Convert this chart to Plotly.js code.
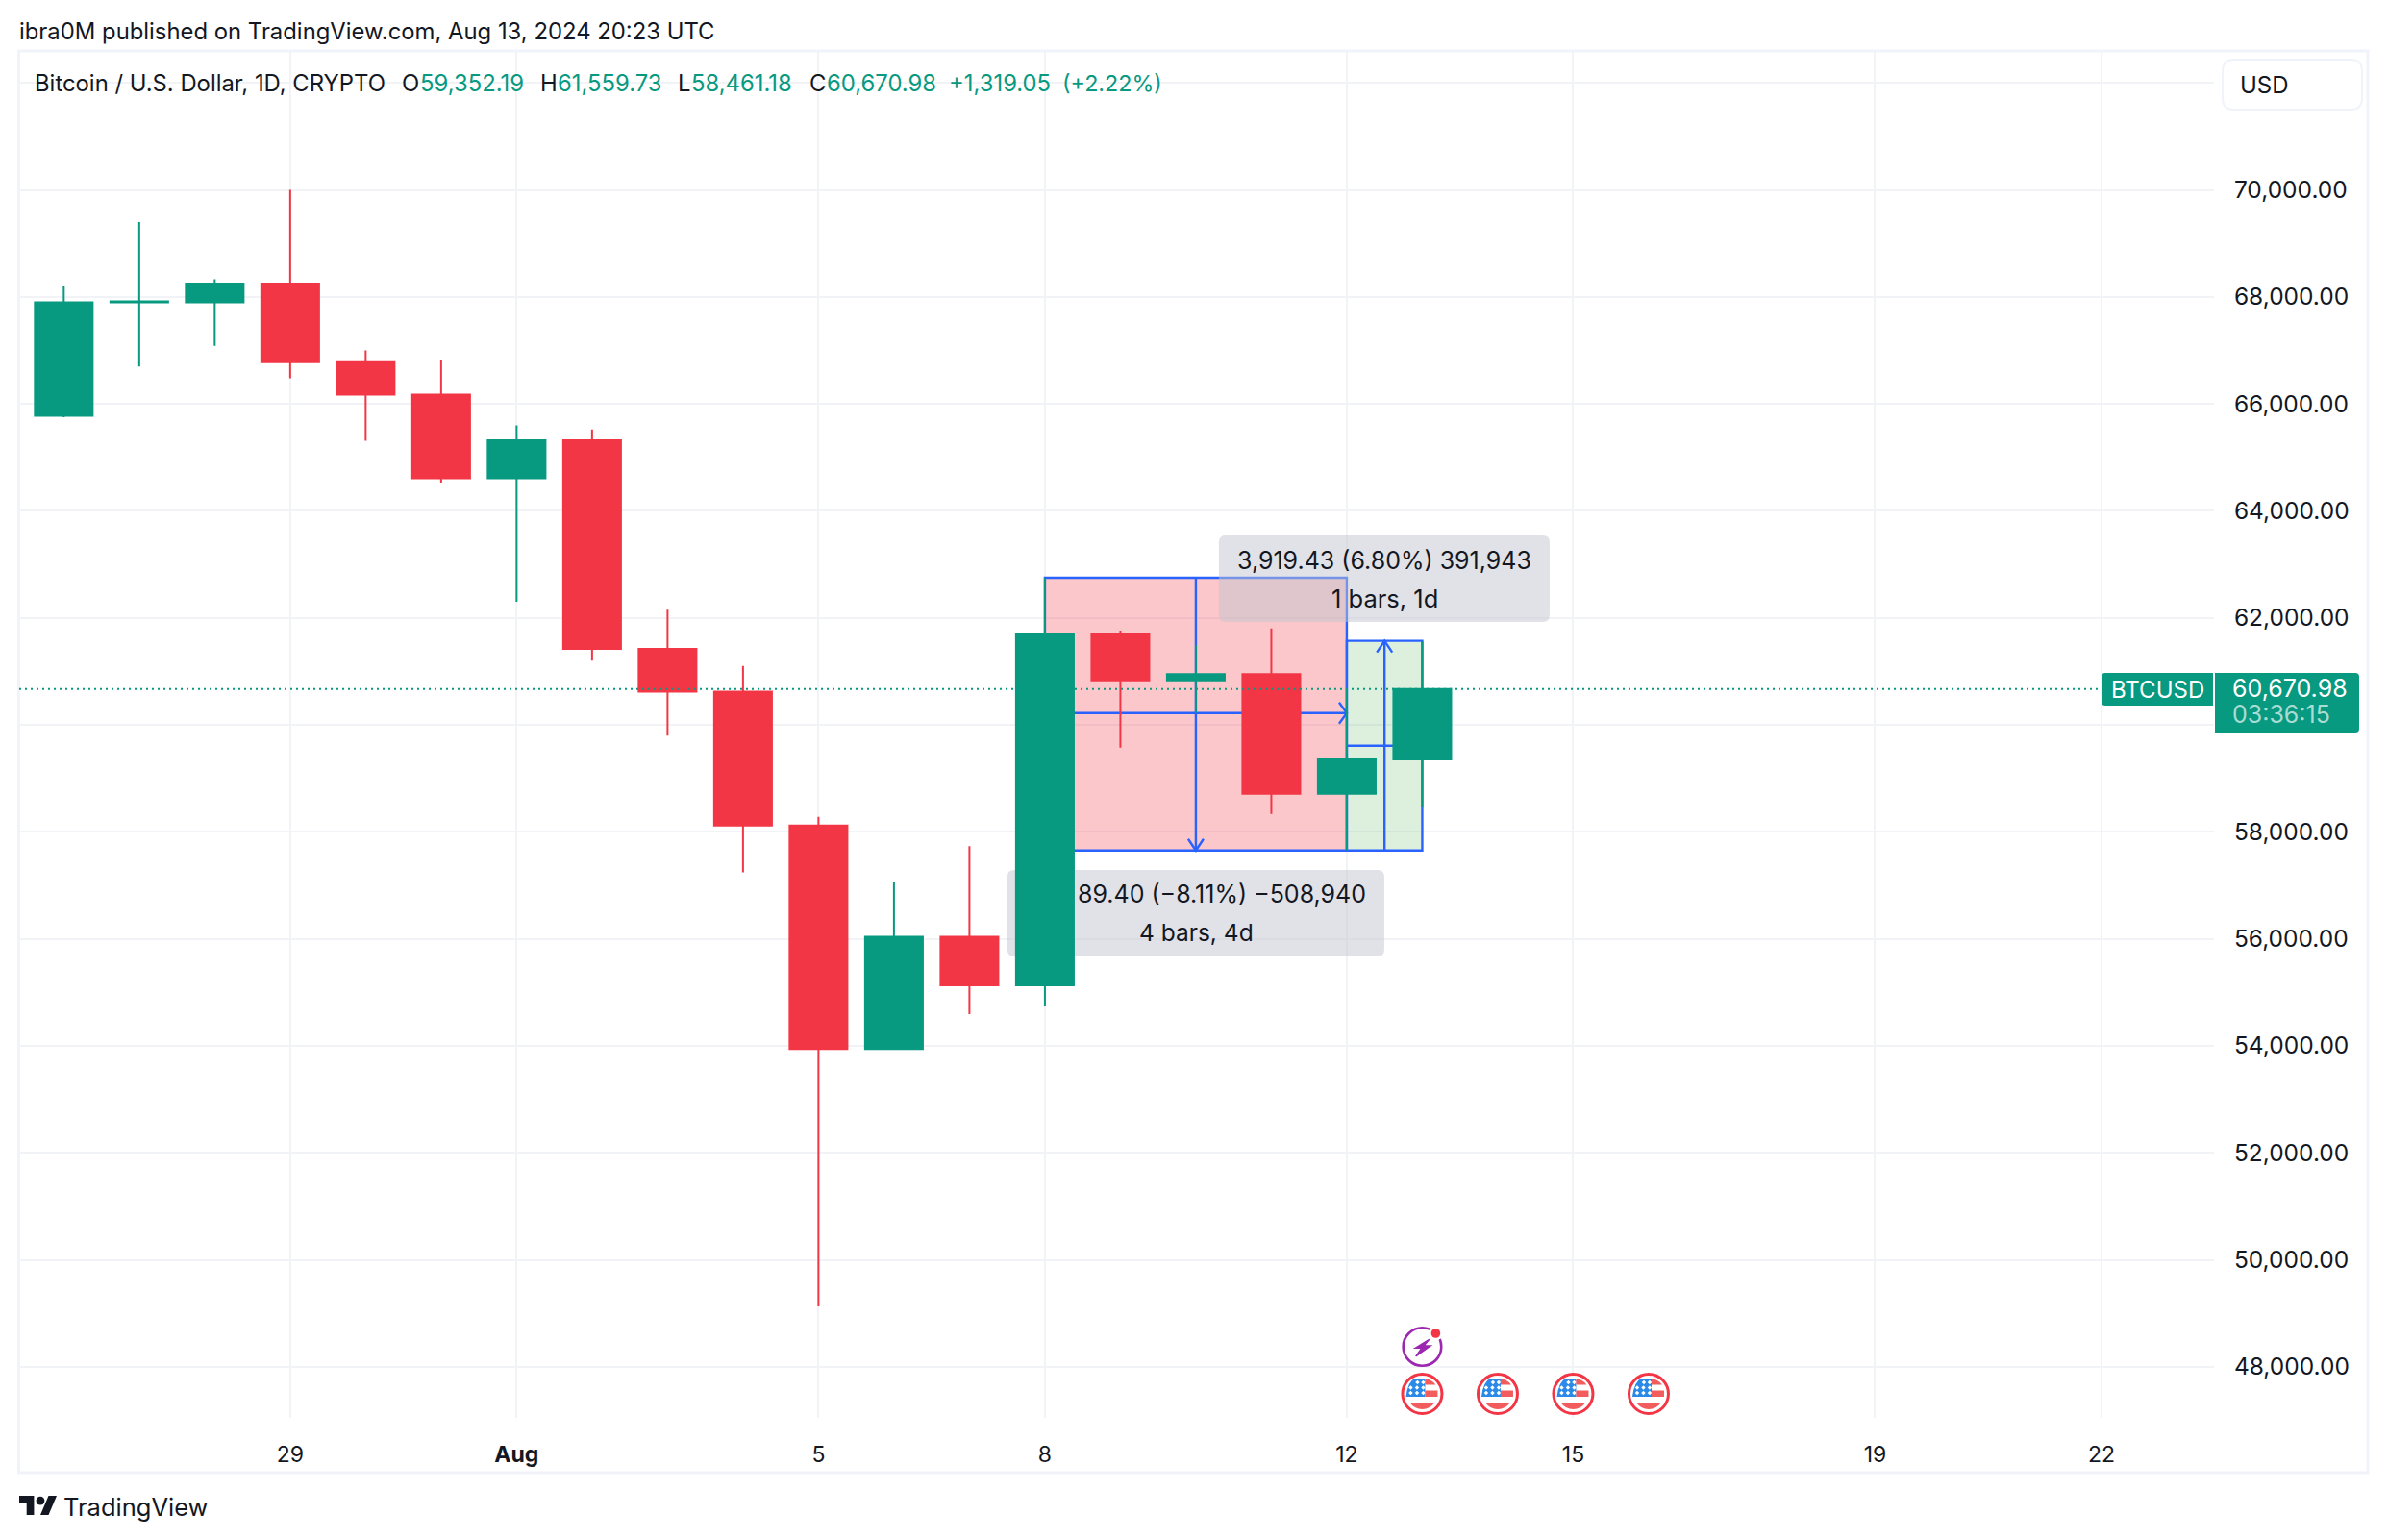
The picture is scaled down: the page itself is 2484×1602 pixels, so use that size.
<!DOCTYPE html>
<html>
<head>
<meta charset="utf-8">
<script src="https://cdn.plot.ly/plotly-3.0.1.min.js"></script>
<style>html,body{margin:0;padding:0;background:#fff}#chart{width:2484px;height:1602px}</style>
</head>
<body>
<div id="chart"></div>
<script>
// ---- data ----
const dates = ['2024-07-26','2024-07-27','2024-07-28','2024-07-29','2024-07-30','2024-07-31','2024-08-01','2024-08-02','2024-08-03','2024-08-04','2024-08-05','2024-08-06','2024-08-07','2024-08-08','2024-08-09','2024-08-10','2024-08-11','2024-08-12','2024-08-13'];
const opens = [65779,67900,67900,68250,66780,66175,64610,65320,61420,60620,58120,53940,56040,55130,61690,60830,60950,58710,59352.19];
const highs = [68197,69400,68330,70000,67000,66820,65600,65520,62150,61100,58280,57070,57730,62750,61760,61490,61800,60680,61559.73];
const lows = [65750,66700,67085,66480,65310,64530,62300,61200,59800,57240,49130,53940,54590,54735,59575,60220,58335,57650,58461.18];
const closes = [67900,67915,68250,66780,66175,64610,65320,61420,60620,58120,53940,56040,55130,61690,60830,60950,58710,59352,60670.98];

const priceTicks = [48000,50000,52000,54000,56000,58000,60000,62000,64000,66000,68000,70000,72000];
const priceTickLabels = ['48,000.00','50,000.00','52,000.00','54,000.00','56,000.00','58,000.00','','62,000.00','64,000.00','66,000.00','68,000.00','70,000.00',''];
const timeTicks = ['2024-07-29','2024-08-01','2024-08-05','2024-08-08','2024-08-12','2024-08-15','2024-08-19','2024-08-22'];
const timeTickLabels = ['29','<b>Aug</b>','5','8','12','15','19','22'];

const lastPrice = 60670.98;
const shortBox = {x0:'2024-08-08', x1:'2024-08-12', top:62750, bottom:57650, midX:'2024-08-10', midY:60220};
const longBox = {x0:'2024-08-12', x1:'2024-08-13', top:61570, bottom:57650, midX:'2024-08-12T12:00', midY:59610};
const flagDates = ['2024-08-13','2024-08-14','2024-08-15','2024-08-16'];
const boltDate = '2024-08-13';

// ---- layout helpers ----
const L=20, R=2303, T=54, B=1475;
const GREEN='#089981', RED='#f23645', BLUE='#2962ff', INK='#131722', GRID='#f2f3f7', FONT='Inter, Roboto, sans-serif';
const px = x => (x-L)/(R-L);
const py = y => 1-(y-T)/(B-T);
const P = (x,y) => px(x).toFixed(6)+' '+py(y).toFixed(6);
function rrWith(f,x0,y0,x1,y1,r){ const rs = Array.isArray(r)?r:[r,r,r,r];
  return 'M '+f(x0+rs[0],y0)+' L '+f(x1-rs[1],y0)+' Q '+f(x1,y0)+' '+f(x1,y0+rs[1])+' L '+f(x1,y1-rs[2])+' Q '+f(x1,y1)+' '+f(x1-rs[2],y1)+' L '+f(x0+rs[3],y1)+' Q '+f(x0,y1)+' '+f(x0,y1-rs[3])+' L '+f(x0,y0+rs[0])+' Q '+f(x0,y0)+' '+f(x0+rs[0],y0)+' Z';
}
const rr = (x0,y0,x1,y1,r) => rrWith(P,x0,y0,x1,y1,r);
const paperPath = (path,fill,line,layer) => ({type:'path',xref:'paper',yref:'paper',path,fillcolor:fill,line:line||{width:0},layer:layer||'above'});
function text(x,y,t,size,color,anchor){
  return {xref:'paper',yref:'paper',x:px(x),y:py(y),text:t,showarrow:false,xanchor:anchor||'left',yanchor:'middle',borderpad:0,borderwidth:0,font:{family:FONT,size,color}};
}
const blueLine = {color:BLUE,width:2.4};
function rect(b,fill){return {type:'rect',xref:'x',yref:'y',x0:b.x0,x1:b.x1,y0:b.bottom,y1:b.top,fillcolor:fill,line:blueLine,layer:'between'};}
function seg(x0,y0,x1,y1){return {type:'line',xref:'x',yref:'y',x0,y0,x1,y1,line:blueLine,layer:'between'};}
function head(x,y,path){return {type:'path',xref:'x',yref:'y',xsizemode:'pixel',ysizemode:'pixel',xanchor:x,yanchor:y,path,line:blueLine,layer:'between'};}
// grey info box, in pixels around the first bar of the short box and the 60,000 line
function infoBox(x0,y0,x1,y1){
  const f=(x,y)=>(x-1087)+' '+(754-y);
  return {type:'path',xref:'x',yref:'y',xsizemode:'pixel',ysizemode:'pixel',xanchor:shortBox.x0,yanchor:60000,path:rrWith(f,x0,y0,x1,y1,7),fillcolor:'rgba(195,197,207,0.5)',line:{width:0},layer:'between'};
}
// icon pieces: x right, y up, in pixels around an anchor
function icon(date,yPx,extra){return Object.assign({xref:'x',yref:'paper',xsizemode:'pixel',ysizemode:'pixel',xanchor:date,yanchor:py(yPx),layer:'above'},extra);}
function flagShapes(d){
  const Y=1450, pink='#f25c5c', stars=[];
  [[-5,12],[1,12],[-12,6.5],[-5.5,6.5],[1,6.5],[-12,1],[-5.5,1],[1,1]].forEach(s=>{
    stars.push(`M ${s[0]} ${s[1]+2.2} L ${s[0]+2.2} ${s[1]} L ${s[0]} ${s[1]-2.2} L ${s[0]-2.2} ${s[1]} Z`);
  });
  return [
    icon(d,Y,{type:'circle',x0:-20.5,x1:20.5,y0:-20.5,y1:20.5,fillcolor:'#ffffff',line:{color:RED,width:3}}),
    icon(d,Y,{type:'path',path:'M 3 16 L -8 16 Q -15 13 -17 -3 L 3 -3 Z',fillcolor:'#2b8ae8',line:{width:0}}),
    icon(d,Y,{type:'path',path:stars.join(' '),fillcolor:'#ffffff',line:{width:0}}),
    icon(d,Y,{type:'path',path:'M 3 16 Q 10 15 14 9.5 L 3 9.5 Z',fillcolor:pink,line:{width:0}}),
    icon(d,Y,{type:'path',path:'M 3 3.5 L 16 3.5 L 16 -3 L 3 -3 Z',fillcolor:pink,line:{width:0}}),
    icon(d,Y,{type:'path',path:'M -13 -9 L 13 -9 Q 8 -16 0 -16 Q -8 -16 -13 -9 Z',fillcolor:pink,line:{width:0}})
  ];
}
function boltShapes(d){
  const Y=1401, pur='#9c27b0';
  return [
    icon(d,Y,{type:'circle',x0:-19.8,x1:19.8,y0:-19.8,y1:19.8,fillcolor:'#ffffff',line:{color:pur,width:2.6}}),
    icon(d,Y,{type:'path',path:'M 7.3 7.7 L -7.3 -1.3 L -0.7 -1.3 L -6.7 -10 L 8.7 1 L 1.7 1 Z',fillcolor:pur,line:{color:pur,width:1.4}}),
    icon(d,Y,{type:'circle',x0:6.5,x1:21.5,y0:6.5,y1:21.5,fillcolor:'#ffffff',line:{width:0}}),
    icon(d,Y,{type:'circle',x0:9.2,x1:18.8,y0:9.2,y1:18.8,fillcolor:RED,line:{width:0}})
  ];
}

const borderColor='#f0f3fa';
const shapes = [
  // outer frame
  {type:'rect',xref:'paper',yref:'paper',x0:px(19.5),x1:px(2463),y0:py(1532),y1:py(53),line:{color:borderColor,width:3},layer:'below'},
  // measuring tools
  rect(shortBox,'rgba(242,54,69,0.28)'),
  rect(longBox,'rgba(76,175,80,0.19)'),
  seg(shortBox.midX,shortBox.bottom,shortBox.midX,shortBox.top),
  seg(shortBox.x0,shortBox.midY,shortBox.x1,shortBox.midY),
  seg(longBox.midX,longBox.bottom,longBox.midX,longBox.top),
  seg(longBox.x0,longBox.midY,longBox.x1,longBox.midY),
  head(shortBox.midX,shortBox.bottom,'M -8 12 L 0 0 L 8 12'),
  head(shortBox.x1,shortBox.midY,'M -8 11 L 0 0 L -8 -11'),
  head(longBox.midX,longBox.top,'M -8 -12 L 0 0 L 8 -12'),
  infoBox(1268,557,1612,647),
  infoBox(1048,905,1440,995),
  // last price line and labels
  {type:'line',xref:'paper',yref:'y',x0:0,x1:px(2184),y0:lastPrice,y1:lastPrice,line:{color:GREEN,width:2,dash:'2px,4px'},layer:'above'},
  paperPath(rr(2186,700,2302,734,[4,0,0,4]),GREEN),
  paperPath(rr(2304,700,2454,762,[0,4,4,0]),GREEN),
  // USD button
  paperPath(rr(2312,62,2457,114,12),'#ffffff',{color:borderColor,width:2}),
  // TradingView logo
  paperPath('M '+P(20,1556)+' L '+P(35.4,1556)+' L '+P(35.4,1576)+' L '+P(27.7,1576)+' L '+P(27.7,1563.8)+' L '+P(20,1563.8)+' Z','#131722'),
  paperPath('M '+P(42,1576)+' L '+P(50.5,1556)+' L '+P(59,1556)+' L '+P(50.5,1576)+' Z','#131722'),
  {type:'circle',xref:'paper',yref:'paper',x0:px(37.6),x1:px(46.4),y0:py(1565.5),y1:py(1556.7),fillcolor:'#131722',line:{width:0},layer:'above'}
].concat(boltShapes(boltDate));
flagDates.forEach(d=>shapes.push(...flagShapes(d)));

const LEG=23.85;
const annotations = [
  text(20,32,'ibra0M published on TradingView.com, Aug 13, 2024 20:23 UTC',LEG,INK),
  text(36,86,'Bitcoin / U.S. Dollar, 1D, CRYPTO',LEG,INK),
  text(418,86,'O',LEG,INK), text(437,86,'59,352.19',LEG,GREEN),
  text(562,86,'H',LEG,INK), text(580,86,'61,559.73',LEG,GREEN),
  text(705,86,'L',LEG,INK), text(719,86,'58,461.18',LEG,GREEN),
  text(842,86,'C',LEG,INK), text(860,86,'60,670.98',LEG,GREEN),
  text(987,86,'+1,319.05',LEG,GREEN), text(1105,86,'(+2.22%)',23.3,GREEN),
  text(2330,88,'USD',24,INK),
  text(1440,583,'3,919.43 (6.80%) 391,943',25,INK,'center'),
  text(1440.5,623,'1 bars, 1d',25.5,INK,'center'),
  text(1421,930,'89.40 (−8.11%) −508,940',25,INK,'right'),
  text(1244,970,'4 bars, 4d',24.5,INK,'center'),
  text(2244,717,'BTCUSD',24,'#ffffff','center'),
  text(2322,716,'60,670.98',25,'#ffffff'),
  text(2322,743,'03:36:15',25,'#a9dcd2'),
  text(66,1568,'TradingView',25.5,INK)
];

const trace = {
  type:'candlestick', x:dates, open:opens, high:highs, low:lows, close:closes,
  whiskerwidth:0, hoverinfo:'skip',
  increasing:{line:{color:GREEN,width:2},fillcolor:GREEN},
  decreasing:{line:{color:RED,width:2},fillcolor:RED}
};

const layout = {
  width:2484, height:1602, showlegend:false, hovermode:false, dragmode:false,
  paper_bgcolor:'#ffffff', plot_bgcolor:'#ffffff', boxgap:0.235, boxgroupgap:0,
  margin:{l:L,r:2484-R,t:T,b:1602-B,pad:0},
  font:{family:FONT,color:INK},
  xaxis:{type:'date',range:['2024-07-25T09:50','2024-08-23T11:46'],rangeslider:{visible:false},
    tickmode:'array',tickvals:timeTicks,ticktext:timeTickLabels,tickangle:0,
    showgrid:true,gridcolor:GRID,gridwidth:2,zeroline:false,showline:false,
    ticks:'outside',ticklen:17,tickcolor:'rgba(0,0,0,0)',tickfont:{family:FONT,size:23,color:INK}},
  yaxis:{side:'right',range:[47044,72579],tickmode:'array',tickvals:priceTicks,ticktext:priceTickLabels,
    showgrid:true,gridcolor:GRID,gridwidth:2,zeroline:false,showline:false,
    ticks:'outside',ticklen:15,tickcolor:'rgba(0,0,0,0)',tickfont:{family:FONT,size:24.5,color:INK}},
  shapes, annotations
};
Plotly.newPlot('chart',[trace],layout,{displayModeBar:false,staticPlot:true});
</script>
</body>
</html>
